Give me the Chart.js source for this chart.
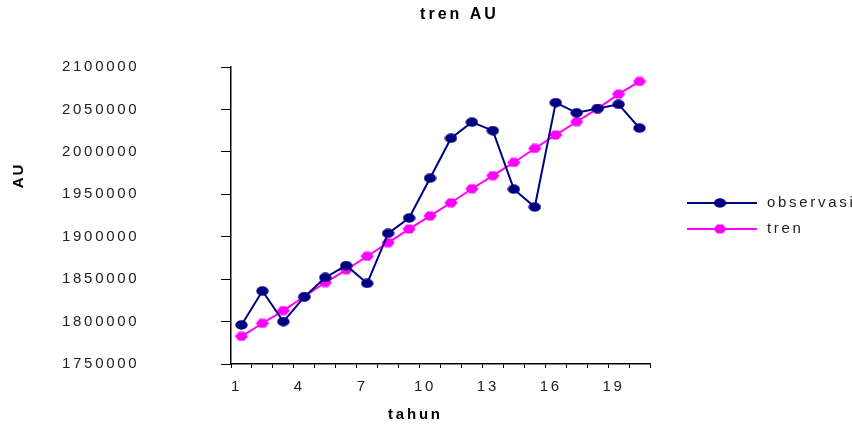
<!DOCTYPE html>
<html>
<head>
<meta charset="utf-8">
<script src="https://cdn.jsdelivr.net/npm/chart.js@4"></script>
<style>
  html, body { margin: 0; padding: 0; background: #fff; }
  #wrap { width: 852px; height: 425px; position: relative; }
</style>
</head>
<body>
<div id="wrap"><canvas id="c" width="852" height="425"></canvas></div>
<script>
const categories = ['1','2','3','4','5','6','7','8','9','10','11','12','13','14','15','16','17','18','19','20'];
const observasi = [1796000, 1836000, 1800000, 1829000, 1852000, 1866000, 1845000, 1904000, 1922000, 1969000,
                   2016000, 2035000, 2025000, 1956000, 1935000, 2058000, 2046000, 2051000, 2056000, 2028000];
const tren = [1782600, 1798000, 1813000, 1829500, 1846000, 1861000, 1877000, 1893000, 1909000, 1924500,
              1940000, 1956500, 1972000, 1987500, 2004000, 2020000, 2035500, 2051000, 2068000, 2083000];
const yMin = 1750000, yMax = 2100000, yStep = 50000;
const chartTitle = 'tren AU';
const yTitle = 'AU';
const xTitle = 'tahun';

const FONT = '"Liberation Sans", Arial, sans-serif';
const NAVY = '#000080';
const MAGENTA = '#FF00FF';

function ellipseImg(w, h, color) {
  const c = document.createElement('canvas');
  c.width = w; c.height = h;
  const g = c.getContext('2d');
  g.fillStyle = color;
  g.beginPath();
  g.ellipse(w / 2, h / 2, w / 2 - 0.3, h / 2 - 0.3, 0, 0, Math.PI * 2);
  g.fill();
  return c;
}
function hexImg(w, h, color) {
  const c = document.createElement('canvas');
  c.width = w; c.height = h;
  const g = c.getContext('2d');
  g.fillStyle = color;
  g.beginPath();
  g.moveTo(0.4, h / 2);
  g.lineTo(4.2, 0.6);
  g.lineTo(w - 4.2, 0.6);
  g.lineTo(w - 0.4, h / 2);
  g.lineTo(w - 4.2, h - 0.6);
  g.lineTo(4.2, h - 0.6);
  g.closePath();
  g.fill();
  return c;
}
const obsMarker = ellipseImg(13, 10, NAVY);
const trenMarker = hexImg(14, 10, MAGENTA);

function spacedText(ctx, text, x, y, spacing, align) {
  ctx.letterSpacing = spacing + 'px';
  ctx.textAlign = align;
  let dx = 0;
  if (align === 'center') dx = spacing / 2;
  else if (align === 'right') dx = spacing;
  ctx.fillText(text, x + dx, y);
}

const decor = {
  id: 'decor',
  beforeDraw(chart) {
    chart.ctx.letterSpacing = '2.7px';
  },
  afterDraw(chart) {
    const ctx = chart.ctx;
    ctx.save();
    ctx.fillStyle = '#000';
    ctx.textBaseline = 'middle';
    ctx.font = 'bold 16px ' + FONT;
    spacedText(ctx, chartTitle, 458, 15, 3, 'center');
    ctx.font = 'bold 15px ' + FONT;
    spacedText(ctx, xTitle, 414, 415, 2.8, 'center');
    ctx.save();
    ctx.translate(18.5, 176.5);
    ctx.rotate(-Math.PI / 2);
    spacedText(ctx, yTitle, 0, 0, 2, 'center');
    ctx.restore();

    // legend
    const ys = [203, 229];
    chart.data.datasets.forEach((ds, i) => {
      const y = ys[i];
      ctx.strokeStyle = ds.borderColor;
      ctx.lineWidth = 2;
      ctx.beginPath();
      ctx.moveTo(687, y);
      ctx.lineTo(757, y);
      ctx.stroke();
      const img = ds.pointStyle;
      ctx.drawImage(img, 720 - img.width / 2, y - img.height / 2);
      ctx.fillStyle = '#222';
      ctx.font = '15px ' + FONT;
      spacedText(ctx, ds.label, 767, y, 2.7, 'left');
    });
    ctx.restore();
  }
};

new Chart(document.getElementById('c'), {
  type: 'line',
  data: {
    labels: categories,
    datasets: [
      {
        label: 'observasi',
        data: observasi,
        borderColor: NAVY,
        backgroundColor: NAVY,
        borderWidth: 2,
        pointStyle: obsMarker,
        pointRadius: 6,
        tension: 0
      },
      {
        label: 'tren',
        data: tren,
        borderColor: MAGENTA,
        backgroundColor: MAGENTA,
        borderWidth: 2,
        pointStyle: trenMarker,
        pointRadius: 6,
        tension: 0
      }
    ]
  },
  options: {
    responsive: false,
    animation: false,
    events: [],
    layout: { padding: { top: 67, right: 202, left: 62, bottom: 0 } },
    plugins: {
      legend: { display: false },
      title: { display: false },
      tooltip: { enabled: false }
    },
    scales: {
      x: {
        type: 'category',
        offset: true,
        afterFit(s) { s.height = 61; },
        grid: { display: true, offset: true, drawOnChartArea: false, drawTicks: true, tickLength: 4, color: '#000', lineWidth: 1 },
        border: { display: true, color: '#000', width: 1.5 },
        ticks: {
          autoSkip: false,
          maxRotation: 0,
          padding: 10,
          labelOffset: -5,
          color: '#222',
          font: { family: FONT, size: 15 },
          callback(v, i) { return i % 3 === 0 ? categories[i] : ''; }
        }
      },
      y: {
        min: yMin,
        max: yMax,
        afterFit(s) { s.width = 169; },
        grid: { display: true, drawOnChartArea: false, drawTicks: true, tickLength: 10, color: '#000', lineWidth: 1 },
        border: { display: true, color: '#000', width: 1.5 },
        ticks: {
          stepSize: yStep,
          padding: 0,
          crossAlign: 'far',
          color: '#222',
          font: { family: FONT, size: 15 },
          callback(v) { return String(v); }
        }
      }
    }
  },
  plugins: [decor]
});
</script>
</body>
</html>
